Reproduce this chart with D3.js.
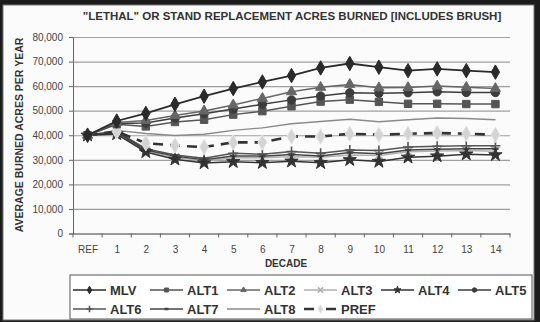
<!DOCTYPE html>
<html>
<head>
<meta charset="utf-8">
<script src="https://cdn.jsdelivr.net/npm/d3@7"></script>
<style>
  body { margin: 0; background: #1c1c1c; }
  svg { display: block; font-family: "Liberation Sans", Arial, sans-serif; }
</style>
</head>
<body>
<div id="chart"></div>
<script>
// data
const decades = ["REF", "1", "2", "3", "4", "5", "6", "7", "8", "9", "10", "11", "12", "13", "14"];
const yTicks = [0, 10000, 20000, 30000, 40000, 50000, 60000, 70000, 80000];

const mlv  = [40000, 45800, 48900, 52600, 55900, 59000, 61700, 64300, 67400, 69200, 67700, 66300, 67000, 66300, 65700];
const alt1 = [40000, 44500, 43600, 45400, 46300, 48400, 49800, 51800, 53700, 54500, 53600, 52800, 52800, 52700, 52700];
const alt2 = [40000, 45200, 46000, 48000, 49900, 52300, 55000, 57700, 59500, 60700, 59300, 59400, 60000, 59500, 59000];
const alt3 = [40000, 41000, 33800, 31000, 29500, 30800, 30800, 31200, 31000, 32000, 31800, 33300, 33600, 33800, 33500];
const alt4 = [40000, 40500, 33200, 30200, 28700, 29200, 28800, 29400, 28800, 30000, 29300, 31000, 31500, 32300, 32000];
const alt5 = [40000, 44800, 45000, 47000, 48800, 50700, 52600, 54400, 56000, 57300, 57100, 57300, 57700, 57400, 57400];
const alt6 = [40000, 41500, 34500, 32000, 30600, 32700, 32300, 33400, 32700, 34000, 33800, 35200, 35500, 35700, 35700];
const alt7 = [40000, 41200, 34000, 31500, 30000, 31600, 31500, 32200, 31600, 33000, 32500, 34000, 34300, 34500, 34500];
const alt8 = [40000, 42000, 40700, 39900, 40400, 42000, 43000, 44700, 45600, 46500, 45500, 46300, 47000, 46800, 46300];
const pref = [40000, 41500, 36800, 35800, 35200, 37100, 37100, 39500, 39500, 40600, 40200, 40600, 40900, 40600, 40200];

const seriesNames = ["MLV", "ALT1", "ALT2", "ALT3", "ALT4", "ALT5", "ALT6", "ALT7", "ALT8", "PREF"];
const seriesValues = [mlv, alt1, alt2, alt3, alt4, alt5, alt6, alt7, alt8, pref];

// look of each series (grey scan)
const styles = {
  MLV:  {stroke: "#2a2a2a", width: 1.8, marker: "diamond", fill: "#2a2a2a", size: 60},
  ALT1: {stroke: "#555",    width: 1.5, marker: "square",  fill: "#555",    size: 55},
  ALT2: {stroke: "#666",    width: 1.5, marker: "triangle",fill: "#666",    size: 45},
  ALT3: {stroke: "#b0b0b0", width: 1.5, marker: "x",       fill: "#b0b0b0", size: 4},
  ALT4: {stroke: "#333",    width: 1.5, marker: "star",    fill: "#333",    size: 55},
  ALT5: {stroke: "#3c3c3c", width: 1.5, marker: "circle",  fill: "#3c3c3c", size: 55},
  ALT6: {stroke: "#555",    width: 1.5, marker: "plus",    fill: "#555",    size: 5},
  ALT7: {stroke: "#444",    width: 1.5, marker: "dash",    fill: "#444",    size: 3},
  ALT8: {stroke: "#8a8a8a", width: 1.4, marker: "none"},
  PREF: {stroke: "#333",    width: 2.6, marker: "pdiamond",fill: "#d4d4d4", size: 70, dash: "10,7"}
};

const W = 540, H = 322;
const plot = {left: 73, right: 510, top: 37, bottom: 233.5};

const svg = d3.select("#chart").append("svg")
    .attr("width", W)
    .attr("height", H);

// scanned frame
svg.append("rect").attr("width", W).attr("height", H).attr("fill", "#1c1c1c");
svg.append("rect")
    .attr("x", 3).attr("y", 5).attr("width", 531).attr("height", 315)
    .attr("fill", "#fbfbfb").attr("stroke", "#777");

// scales
const x = d3.scalePoint().domain(decades).range([plot.left, plot.right]).padding(0.5);
const xBand = d3.scaleBand().domain(decades).range([plot.left, plot.right]);
const y = d3.scaleLinear().domain([0, 80000]).range([plot.bottom, plot.top]);

// gridlines
svg.append("g")
    .attr("transform", `translate(${plot.left},0)`)
    .call(d3.axisLeft(y).tickValues(yTicks).tickSize(-(plot.right - plot.left)).tickFormat(""))
    .call(g => g.select(".domain").remove())
    .call(g => g.selectAll("line").attr("stroke", "#a0a0a0").attr("stroke-width", 1.2));

// y axis
svg.append("g")
    .attr("transform", `translate(${plot.left},0)`)
    .call(d3.axisLeft(y).tickValues(yTicks).tickSize(4).tickPadding(6).tickFormat(d3.format(",")))
    .call(g => g.select(".domain").attr("stroke", "#666"))
    .call(g => g.selectAll("line").attr("stroke", "#666"))
    .call(g => g.selectAll("text").attr("font-size", 10).attr("fill", "#444")
        .attr("font-family", "Liberation Sans, Arial, sans-serif"));

// x axis: labels centred, ticks between categories
svg.append("g")
    .attr("transform", `translate(0,${plot.bottom})`)
    .call(d3.axisBottom(x).tickSize(0).tickPadding(12))
    .call(g => g.select(".domain").attr("stroke", "#666"))
    .call(g => g.selectAll("text").attr("font-size", 10).attr("fill", "#444")
        .attr("font-family", "Liberation Sans, Arial, sans-serif"));

svg.append("g")
    .selectAll("line")
    .data(decades.concat(["end"]))
    .enter().append("line")
        .attr("x1", (d, i) => plot.left + i * xBand.step())
        .attr("x2", (d, i) => plot.left + i * xBand.step())
        .attr("y1", plot.bottom)
        .attr("y2", plot.bottom + 4)
        .attr("stroke", "#666");

// titles
svg.append("text")
    .attr("x", 292).attr("y", 20)
    .attr("text-anchor", "middle")
    .attr("font-size", 11.5).attr("font-weight", "bold").attr("fill", "#333")
    .text("\"LETHAL\" OR STAND REPLACEMENT ACRES BURNED [INCLUDES BRUSH]");

svg.append("text")
    .attr("transform", "translate(23,135) rotate(-90)")
    .attr("text-anchor", "middle")
    .attr("font-size", 10.5).attr("font-weight", "bold").attr("fill", "#333")
    .text("AVERAGE BURNED ACRES PER YEAR");

svg.append("text")
    .attr("x", 286).attr("y", 267)
    .attr("text-anchor", "middle")
    .attr("font-size", 10).attr("font-weight", "bold").attr("fill", "#333")
    .text("DECADE");

// marker drawing
function drawMarker(g, st) {
  const m = st.marker;
  if (m === "none") return;
  if (m === "x") {
    const s = st.size;
    g.append("path").attr("d", `M${-s},${-s}L${s},${s}M${-s},${s}L${s},${-s}`)
      .attr("stroke", st.stroke).attr("stroke-width", 1.5).attr("fill", "none");
  } else if (m === "plus") {
    const s = st.size;
    g.append("path").attr("d", `M${-s},0H${s}M0,${-s}V${s}`)
      .attr("stroke", st.stroke).attr("stroke-width", 1.6).attr("fill", "none");
  } else if (m === "dash") {
    const s = st.size;
    g.append("path").attr("d", `M${-s},0H${s}`)
      .attr("stroke", st.stroke).attr("stroke-width", 2.5).attr("fill", "none");
  } else {
    const types = {
      diamond: d3.symbolDiamond, square: d3.symbolSquare, triangle: d3.symbolTriangle,
      star: d3.symbolStar, circle: d3.symbolCircle, pdiamond: d3.symbolDiamond
    };
    g.append("path").attr("d", d3.symbol().type(types[m]).size(st.size)())
      .attr("fill", st.fill)
      .attr("stroke", m === "pdiamond" ? "#e6e6e6" : st.fill)
      .attr("stroke-width", 1);
  }
}

// lines
const line = d3.line()
    .x((d, i) => x(decades[i]))
    .y(d => y(d));

const drawOrder = [8, 3, 6, 7, 4, 9, 1, 5, 2, 0];
drawOrder.forEach(k => {
  const name = seriesNames[k];
  const st = styles[name];
  const g = svg.append("g").attr("class", "series");
  g.append("path")
      .datum(seriesValues[k])
      .attr("d", line)
      .attr("fill", "none")
      .attr("stroke", st.stroke)
      .attr("stroke-width", st.width)
      .attr("stroke-dasharray", st.dash || null);
  seriesValues[k].forEach((v, i) => {
    drawMarker(g.append("g").attr("transform", `translate(${x(decades[i])},${y(v)})`), st);
  });
});

// legend
svg.append("rect")
    .attr("x", 70).attr("y", 275).attr("width", 462).attr("height", 44)
    .attr("fill", "#fff").attr("stroke", "#555");

const legend = svg.selectAll(".legend")
    .data(seriesNames)
    .enter().append("g")
    .attr("class", "legend")
    .attr("transform", (d, i) => `translate(${73 + (i % 6) * 77},${i < 6 ? 290 : 309})`);

legend.append("line")
    .attr("x1", 0).attr("x2", 33)
    .attr("stroke", d => styles[d].stroke)
    .attr("stroke-dasharray", d => d === "PREF" ? "10,12" : null)
    .attr("stroke-width", d => d === "PREF" ? 2.6 : 1.4);

legend.each(function(d) {
  const st = Object.assign({}, styles[d]);
  if (st.size) st.size = (st.marker === "x" || st.marker === "plus" || st.marker === "dash")
      ? st.size * 0.65 : st.size * 0.28;
  drawMarker(d3.select(this).append("g").attr("transform", "translate(16.5,0)"), st);
});

legend.append("text")
    .attr("x", 37).attr("y", 4.5)
    .attr("font-size", 13).attr("font-weight", "bold").attr("fill", "#333")
    .text(d => d);
</script>
</body>
</html>
